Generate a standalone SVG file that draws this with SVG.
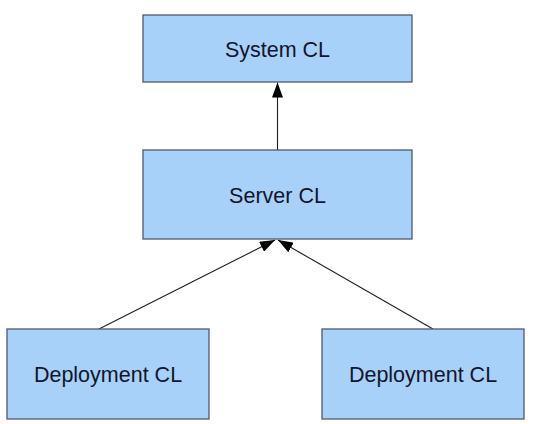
<svg xmlns="http://www.w3.org/2000/svg" width="539" height="424" viewBox="0 0 539 424">
  <defs>
    <style>
      .box { fill: #a8d1fa; stroke: #4d5b6a; stroke-width: 1.3; }
      .label { font-family: "Liberation Sans", Arial, sans-serif; font-size: 21.5px; fill: #12162a; text-anchor: middle; }
      .conn { stroke: #1e1e1e; stroke-width: 1.1; fill: none; marker-end: url(#arrow); }
    </style>
    <marker id="arrow" markerUnits="userSpaceOnUse" markerWidth="15" markerHeight="11" refX="15" refY="5.5" orient="auto">
      <path d="M0,0 L15,5.5 L0,11 z" fill="#000"/>
    </marker>
  </defs>
  <rect width="539" height="424" fill="#fff"/>
  <g id="connectors">
    <line class="conn" x1="277.5" y1="150" x2="277.5" y2="82.5"/>
    <line class="conn" x1="99" y1="329" x2="275" y2="240"/>
    <line class="conn" x1="433" y1="329" x2="278" y2="240"/>
  </g>
  <g id="system-cl">
    <rect class="box" x="143" y="15" width="269" height="67"/>
    <text class="label" x="277.5" y="56.5">System CL</text>
  </g>
  <g id="server-cl">
    <rect class="box" x="143" y="150" width="269" height="89"/>
    <text class="label" x="277.5" y="202.5">Server CL</text>
  </g>
  <g id="deployment-cl-1">
    <rect class="box" x="7" y="329" width="202" height="90"/>
    <text class="label" x="108" y="382">Deployment CL</text>
  </g>
  <g id="deployment-cl-2">
    <rect class="box" x="322" y="329" width="202" height="90"/>
    <text class="label" x="423" y="382">Deployment CL</text>
  </g>
</svg>
